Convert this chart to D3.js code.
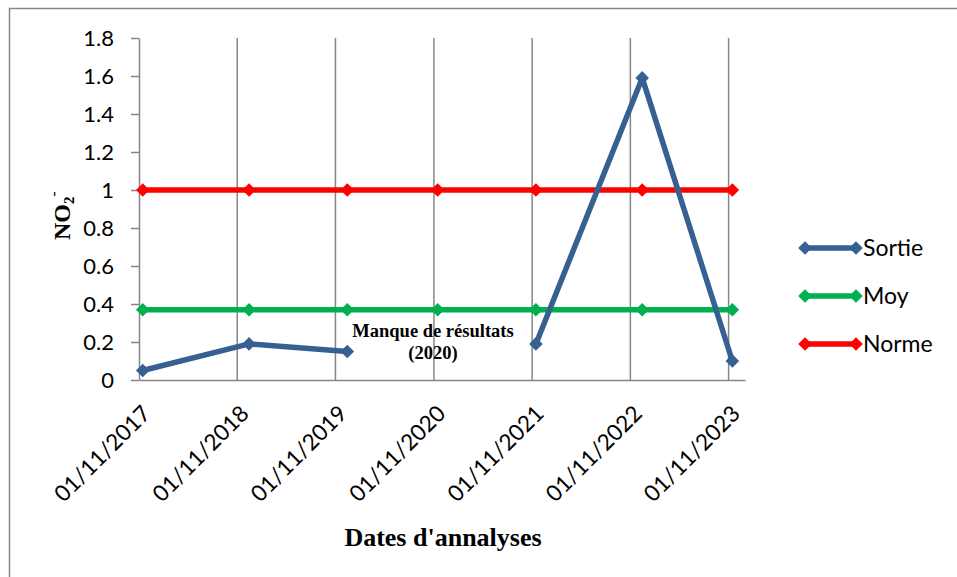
<!DOCTYPE html>
<html>
<head>
<meta charset="utf-8">
<script src="https://cdn.jsdelivr.net/npm/d3@7/dist/d3.min.js"></script>
<style>
  html, body { margin: 0; padding: 0; background: #fff; }
  svg { display: block; }
</style>
</head>
<body>
<svg id="chart" width="957" height="577"></svg>
<script>
// Sampling dates (mid-month of each analysis month)
const sampleDates = ["2017-11-15", "2018-12-15", "2019-12-15", "2020-11-15", "2021-11-15", "2022-12-15", "2023-11-15"];
// NO2- concentrations
const sortie = [0.05, 0.19, 0.15, null, 0.19, 1.59, 0.10];
const moy    = [0.37, 0.37, 0.37, 0.37, 0.37, 0.37, 0.37];
const norme  = [1, 1, 1, 1, 1, 1, 1];
// Axis ticks
const xTickDates  = ["2017-11-01", "2018-11-01", "2019-11-01", "2020-11-01", "2021-11-01", "2022-11-01", "2023-11-01"];
const xTickLabels = ["01/11/2017", "01/11/2018", "01/11/2019", "01/11/2020", "01/11/2021", "01/11/2022", "01/11/2023"];
const yTicks = [0, 0.2, 0.4, 0.6, 0.8, 1, 1.2, 1.4, 1.6, 1.8];
const seriesNames = ["Sortie", "Moy", "Norme"];
const seriesColors = ["#376092", "#00B050", "#FF0000"];

const parse = d3.utcParse("%Y-%m-%d");
const svg = d3.select("#chart");
const grey = "#868686";

// outer chart frame
svg.append("rect")
  .attr("x", 9.5).attr("y", 8.5)
  .attr("width", 1000).attr("height", 1000)
  .attr("fill", "none").attr("stroke", grey).attr("stroke-width", 1.5);

const plot = { left: 139, right: 745, top: 38, bottom: 380 };

const x = d3.scaleUtc()
  .domain([parse("2017-11-01"), parse("2024-01-01")])
  .range([plot.left, plot.right]);
const y = d3.scaleLinear()
  .domain([0, 1.8])
  .range([plot.bottom, plot.top]);

// vertical gridlines at the yearly ticks
svg.append("g").selectAll("line")
  .data(xTickDates.slice(1))
  .join("line")
  .attr("x1", d => x(parse(d))).attr("x2", d => x(parse(d)))
  .attr("y1", plot.top).attr("y2", plot.bottom)
  .attr("stroke", grey).attr("stroke-width", 1.5);

// y axis
const yAxis = svg.append("g")
  .attr("transform", `translate(${plot.left},0)`)
  .call(d3.axisLeft(y).tickValues(yTicks).tickSize(8).tickSizeOuter(0).tickPadding(17).tickFormat(d => String(d)));
yAxis.select(".domain").attr("stroke", grey).attr("stroke-width", 1.5);
yAxis.selectAll(".tick line").attr("stroke", grey).attr("stroke-width", 1.5);
yAxis.selectAll(".tick text")
  .attr("font-family", "Lato").attr("font-size", 22).attr("fill", "#000").attr("dy", "0.36em");

// x axis
const xAxis = svg.append("g")
  .attr("transform", `translate(0,${plot.bottom})`)
  .call(d3.axisBottom(x).tickValues(xTickDates.map(parse)).tickSize(0).tickSizeOuter(0).tickFormat(""));
xAxis.select(".domain").attr("stroke", grey).attr("stroke-width", 1.5);

svg.append("g").selectAll("text")
  .data(xTickDates)
  .join("text")
  .attr("transform", d => `translate(${x(parse(d)) + 13},${plot.bottom + 35}) rotate(-45)`)
  .attr("text-anchor", "end")
  .attr("font-family", "Lato").attr("font-size", 22.5).attr("fill", "#000")
  .text((d, i) => xTickLabels[i]);

// series
const diamond = r => `M0,${-r}L${r},0L0,${r}L${-r},0Z`;
const seriesValues = [sortie, moy, norme];
const drawOrder = [1, 2, 0];
drawOrder.forEach(k => {
  const pts = sampleDates.map((d, i) => ({ date: parse(d), v: seriesValues[k][i] }));
  const line = d3.line()
    .defined(p => p.v !== null)
    .x(p => x(p.date)).y(p => y(p.v));
  const g = svg.append("g");
  g.append("path")
    .datum(pts)
    .attr("d", line)
    .attr("fill", "none")
    .attr("stroke", seriesColors[k])
    .attr("stroke-width", 5.5)
    .attr("stroke-linejoin", "round");
  g.selectAll("path.mark")
    .data(pts.filter(p => p.v !== null))
    .join("path")
    .attr("class", "mark")
    .attr("transform", p => `translate(${x(p.date)},${y(p.v)})`)
    .attr("d", diamond(6.8))
    .attr("fill", seriesColors[k]);
});

// note on the missing 2020 result
const note = svg.append("text")
  .attr("text-anchor", "middle")
  .attr("font-family", "Liberation Serif, Times New Roman, serif")
  .attr("font-weight", "bold").attr("font-size", 18.5).attr("fill", "#000");
note.append("tspan").attr("x", 433).attr("y", 337).text("Manque de résultats");
note.append("tspan").attr("x", 433).attr("y", 359).text("(2020)");

// axis titles
svg.append("text")
  .attr("x", 443).attr("y", 546)
  .attr("text-anchor", "middle")
  .attr("font-family", "Liberation Serif, Times New Roman, serif")
  .attr("font-weight", "bold").attr("font-size", 26).attr("fill", "#000")
  .text("Dates d'annalyses");

const yTitle = svg.append("text")
  .attr("transform", "translate(70,240) rotate(-90)")
  .attr("text-anchor", "start")
  .attr("font-family", "Liberation Serif, Times New Roman, serif")
  .attr("font-weight", "bold").attr("font-size", 24).attr("fill", "#000");
yTitle.append("tspan").text("NO");
yTitle.append("tspan").attr("font-size", 15).attr("dy", 4).text("2");
yTitle.append("tspan").attr("font-size", 15).attr("dy", -16).text("-");

// legend
const legend = svg.append("g");
seriesNames.forEach((name, i) => {
  const ly = 248 + i * 48;
  const row = legend.append("g").attr("transform", `translate(0,${ly})`);
  row.append("line")
    .attr("x1", 805).attr("x2", 856)
    .attr("stroke", seriesColors[i]).attr("stroke-width", 5.5);
  [805, 856].forEach(cx => {
    row.append("path")
      .attr("transform", `translate(${cx},0)`)
      .attr("d", diamond(6.8))
      .attr("fill", seriesColors[i]);
  });
  row.append("text")
    .attr("x", 863).attr("y", 8)
    .attr("font-family", "Lato").attr("font-size", 23).attr("fill", "#000")
    .text(name);
});
</script>
</body>
</html>
